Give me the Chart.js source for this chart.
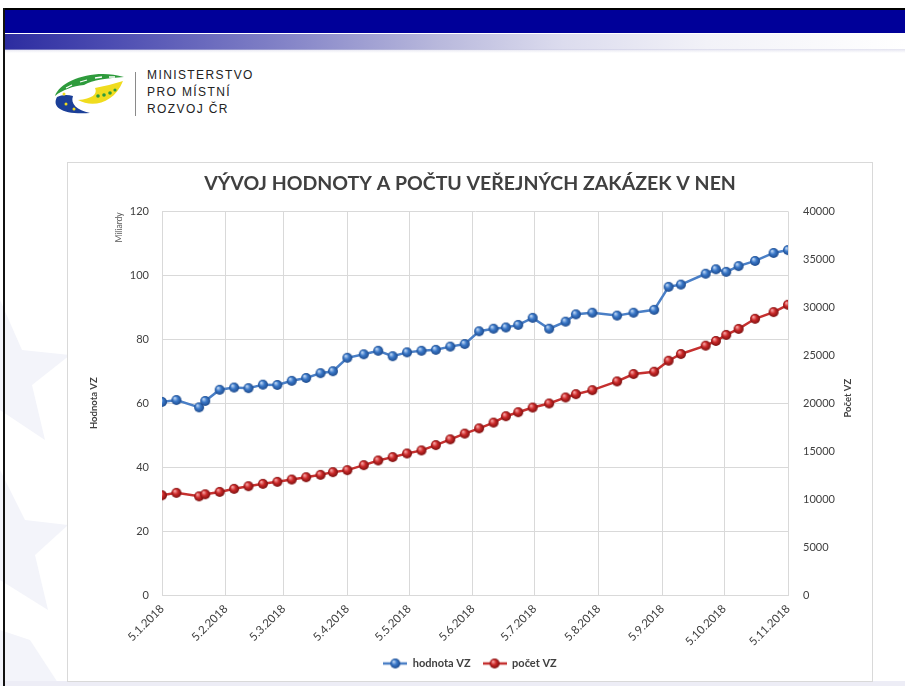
<!DOCTYPE html>
<html>
<head>
<meta charset="utf-8">
<script src="https://cdn.jsdelivr.net/npm/chart.js@4.4.1/dist/chart.umd.min.js"></script>
<style>
html,body{margin:0;padding:0;background:#fff;width:905px;height:686px;overflow:hidden;}
body{position:relative;font-family:Lato,'Liberation Sans',sans-serif;}
.abs{position:absolute;}
#topline{left:3px;top:8px;width:902px;height:2px;background:#000;}
#band{left:5px;top:10px;width:900px;height:23px;background:#000099;}
#grad{left:5px;top:34px;width:900px;height:16px;background:linear-gradient(to right,#2c2ca0 0%,#4d4db2 12%,#8080c6 30%,#b8b8dc 48%,#dcdcee 62%,#f2f2f8 78%,#ffffff 100%);}
#gradshade{left:5px;top:49px;width:900px;height:4px;background:linear-gradient(to bottom,rgba(200,200,225,0.5),rgba(255,255,255,0));}
#leftline{left:3px;top:8px;width:2px;height:678px;background:#111;}
#bottomband{left:5px;top:681px;width:900px;height:5px;background:#ededf6;}
#divider{left:135px;top:72px;width:1px;height:44px;background:#8a8a8a;}
#mmr{left:147px;top:67px;font-family:'Liberation Sans',Arial,sans-serif;font-size:12px;line-height:17px;letter-spacing:1.4px;color:#222;}
#box{left:67px;top:162px;width:804px;height:518px;border:1px solid #d9d9d9;background:#fff;}
#c{position:absolute;left:0;top:0;}
</style>
</head>
<body>
<svg class="abs" style="left:0;top:0" width="905" height="686">
  <g fill="#f3f4fa">
    <polygon points="0,300 22,350 70,355 32,385 45,440 0,410"/>
    <polygon points="0,470 25,520 68,525 35,555 48,610 0,580"/>
    <polygon points="0,630 30,640 60,686 0,686"/>
  </g>
</svg>
<div id="topline" class="abs"></div>
<div id="band" class="abs"></div>
<div id="grad" class="abs"></div>
<div id="gradshade" class="abs"></div>
<div id="leftline" class="abs"></div>
<div id="bottomband" class="abs"></div>
<svg class="abs" style="left:0;top:0" width="140" height="130">
  <path d="M55,96 C60,80 95,68 124,77 C108,78 92,80 84,85 C73,86 62,90 55,96 Z" fill="#2e9b3c"/>
  <path d="M66,88 l6,-3 M80,82 l7,-2 M95,78 l7,-1 M109,77 l6,0" stroke="#ffffff" stroke-width="1.3"/>
  <path d="M57,97 C51,108 64,115 90,113 C77,110 70,104 73,96 C67,94 61,95 57,97 Z" fill="#1b3f98"/>
  <path d="M78,100 C92,108 114,104 123,81 C114,84 104,86 95,88 C98,94 92,99 78,100 Z" fill="#f0dc1e"/>
  <g fill="#2e9b3c"><circle cx="98" cy="96" r="1.8"/><circle cx="104" cy="95" r="1.8"/><circle cx="110" cy="93" r="1.8"/><circle cx="115" cy="90" r="1.6"/></g>
  <g fill="#f0dc1e"><circle cx="64" cy="94" r="1.5"/><circle cx="66" cy="104" r="1.5"/><circle cx="74" cy="109" r="1.5"/></g>
</svg>
<div id="divider" class="abs"></div>
<div id="mmr" class="abs">MINISTERSTVO<br>PRO MÍSTNÍ<br>ROZVOJ ČR</div>
<div id="box" class="abs"><canvas id="c" width="804" height="518"></canvas></div>
<script>
// ---- data ----
const dates = ['5.1.2018','12.1.2018','23.1.2018','26.1.2018','2.2.2018','9.2.2018','16.2.2018','23.2.2018',
  '2.3.2018','9.3.2018','16.3.2018','23.3.2018','29.3.2018','5.4.2018','13.4.2018','20.4.2018','27.4.2018',
  '4.5.2018','11.5.2018','18.5.2018','25.5.2018','1.6.2018','8.6.2018','15.6.2018','21.6.2018','27.6.2018',
  '4.7.2018','12.7.2018','20.7.2018','25.7.2018','2.8.2018','14.8.2018','22.8.2018','1.9.2018','8.9.2018',
  '14.9.2018','26.9.2018','1.10.2018','6.10.2018','12.10.2018','20.10.2018','29.10.2018','5.11.2018'];
const hodnotaVZ = [60.4,61.0,58.7,60.7,64.2,64.9,64.7,65.8,65.7,67.0,67.9,69.4,70.0,74.2,75.3,76.4,74.7,
  75.9,76.4,76.7,77.7,78.5,82.5,83.3,83.7,84.5,86.7,83.3,85.5,87.8,88.3,87.4,88.3,89.2,96.4,97.1,100.5,
  101.9,101.1,102.9,104.5,107.0,107.9];
const pocetVZ = [10400,10650,10290,10500,10750,11070,11340,11590,11800,12040,12280,12530,12810,13020,13540,
  14030,14380,14760,15080,15630,16230,16830,17380,17980,18640,19060,19550,19970,20600,20940,21360,22270,
  23040,23280,24430,25130,26000,26490,27120,27750,28800,29500,30260];
const tickDates = ['5.1.2018','5.2.2018','5.3.2018','5.4.2018','5.5.2018','5.6.2018','5.7.2018','5.8.2018',
  '5.9.2018','5.10.2018','5.11.2018'];
const leftAxis = {min:0, max:120, step:20};
const rightAxis = {min:0, max:40000, step:5000};

function dayOf(s){const p=s.split('.').map(Number);return (Date.UTC(p[2],p[1]-1,p[0])-Date.UTC(2018,0,5))/86400000;}

function sphere(mid, light, dark, r){
  const c=document.createElement('canvas');const s=2*r+2;c.width=s;c.height=s;
  const g=c.getContext('2d');const cx=s/2,cy=s/2;
  const gr=g.createRadialGradient(cx-r*0.35,cy-r*0.4,0.5,cx,cy,r);
  gr.addColorStop(0,light);gr.addColorStop(0.45,mid);gr.addColorStop(1,dark);
  g.fillStyle=gr;g.beginPath();g.arc(cx,cy,r,0,Math.PI*2);g.fill();
  return c;
}
function legendMark(lineCol, sph){
  const c=document.createElement('canvas');c.width=24;c.height=12;
  const g=c.getContext('2d');g.strokeStyle=lineCol;g.lineWidth=2.5;
  g.beginPath();g.moveTo(0,6);g.lineTo(24,6);g.stroke();
  g.drawImage(sph,12-sph.width/2,6-sph.height/2);
  return c;
}
const blueLine='#4a7fc6', redLine='#c5302f';
const blueSph=sphere('#3a78c8','#b8d2f2','#1d4a8c',5);
const redSph=sphere('#cc2a2a','#f6a0a0','#7a0e0e',5);

const xs = dates.map(dayOf);
const tickVals = tickDates.map(dayOf);
const labelMap = {}; tickDates.forEach((d,i)=>labelMap[tickVals[i]]=d);

const txt='#404040';
const gridCol='#d9d9d9';

const extraText = {
  id:'extraText',
  afterDraw(chart){
    const ctx=chart.ctx, a=chart.chartArea;
    ctx.save();
    ctx.fillStyle=txt;ctx.textAlign='center';ctx.textBaseline='middle';
    ctx.font='bold 9.5px Lato';
    ctx.translate(a.right+60,(a.top+a.bottom)/2-5);ctx.rotate(-Math.PI/2);
    ctx.fillText('Počet VZ',0,0);
    ctx.restore();
    ctx.save();
    ctx.fillStyle='#595959';ctx.textAlign='center';ctx.textBaseline='middle';
    ctx.font='8.5px Lato';
    ctx.translate(a.left-43,a.top+16);ctx.rotate(-Math.PI/2);
    ctx.fillText('Miliardy',0,0);
    ctx.restore();
  }
};

new Chart(document.getElementById('c'),{
  type:'line',
  data:{datasets:[
    {label:'hodnota VZ',data:xs.map((x,i)=>({x:x,y:hodnotaVZ[i]})),yAxisID:'y',borderColor:blueLine,
     backgroundColor:'#3a78c8',borderWidth:2.5,pointStyle:blueSph,pointRadius:5,tension:0},
    {label:'počet VZ',data:xs.map((x,i)=>({x:x,y:pocetVZ[i]})),yAxisID:'y1',borderColor:redLine,
     backgroundColor:'#cc2a2a',borderWidth:2.5,pointStyle:redSph,pointRadius:5,tension:0}
  ]},
  options:{
    responsive:false,animation:false,devicePixelRatio:1,
    layout:{padding:{left:0,right:0,top:0,bottom:2}},
    plugins:{
      title:{display:true,text:'VÝVOJ HODNOTY A POČTU VEŘEJNÝCH ZAKÁZEK V NEN',color:txt,
        font:{family:'Lato',size:19.5,weight:'bold'},padding:{top:9,bottom:16}},
      legend:{position:'bottom',labels:{color:txt,font:{family:'Lato',size:11,weight:'bold'},
        usePointStyle:true,pointStyleWidth:24,padding:12,
        generateLabels(chart){
          return chart.data.datasets.map((ds,i)=>({text:ds.label,fontColor:txt,
            pointStyle:i===0?legendMark(blueLine,blueSph):legendMark(redLine,redSph),
            fillStyle:ds.borderColor,strokeStyle:ds.borderColor,lineWidth:0,datasetIndex:i,hidden:false}));
        }}},
      tooltip:{enabled:false}
    },
    scales:{
      x:{type:'linear',min:tickVals[0],max:tickVals[tickVals.length-1],
        afterBuildTicks(s){s.ticks=tickVals.map(v=>({value:v}));},
        afterFit(s){s.height=51;},
        grid:{color:gridCol,drawTicks:false},border:{color:gridCol},
        ticks:{autoSkip:false,minRotation:45,maxRotation:45,padding:7,color:txt,
          font:{family:'Lato',size:11.5},callback:v=>labelMap[v]}},
      y:{position:'left',min:leftAxis.min,max:leftAxis.max,
        afterFit(s){s.width=94;},
        ticks:{stepSize:leftAxis.step,padding:13,color:txt,font:{family:'Lato',size:11},callback:v=>String(v)},
        grid:{color:gridCol,drawTicks:false},border:{color:gridCol},
        title:{display:true,text:'Hodnota VZ',color:txt,font:{family:'Lato',size:9.5,weight:'bold'},padding:{top:20,bottom:0}}},
      y1:{position:'right',min:rightAxis.min,max:rightAxis.max,
        afterFit(s){s.width=84;},
        ticks:{stepSize:rightAxis.step,padding:15,color:txt,font:{family:'Lato',size:11},callback:v=>String(v)},
        grid:{display:false,drawTicks:false},border:{display:false}}
    }
  },
  plugins:[extraText]
});
</script>
</body>
</html>
